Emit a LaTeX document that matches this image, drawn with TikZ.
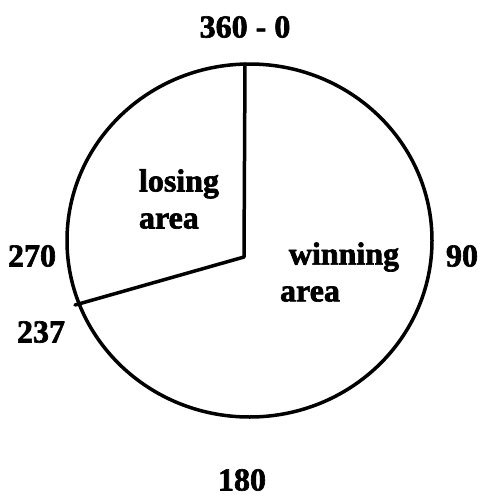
\documentclass[tikz,border=0pt]{standalone}
\usepackage{fontspec}
\setmainfont{Liberation Serif}[BoldFeatures={FakeBold=2}]
\begin{document}
\begin{tikzpicture}[x=1pt,y=-1pt,
  lbl/.style={font=\fontsize{32}{34}\selectfont\bfseries, inner sep=0pt},
  area/.style={font=\fontsize{32}{37}\selectfont\bfseries, inner sep=0pt, align=left},
  stroke/.style={line width=3.5pt, line cap=round, line join=round}]
\useasboundingbox[fill=white] (0,0) rectangle (481,498);
\draw[stroke] (249.5,240.5) ellipse [x radius=182.5, y radius=176.5];
\coordinate (c) at (244,257);
\coordinate (top) at (245,64);
\coordinate (p237) at (75,305);
\draw[stroke] (top) -- (c) -- (p237);
\fill (p237) -- ++(4,-4) -- ++(3,6) -- cycle;
\node[lbl] (n0) at (245,27) {360 - 0};
\node[lbl] (n90) at (462,256) {90};
\node[lbl] (n270) at (32,256) {270};
\node[lbl] (n237) at (41,332) {237};
\node[lbl] (n180) at (242,480) {180};
\node[area] (lose) at (179,199) {losing\\area};
\node[lbl] (win1) at (344,257) {winning};
\node[lbl] (win2) at (310,294) {area};
\end{tikzpicture}
\end{document}
